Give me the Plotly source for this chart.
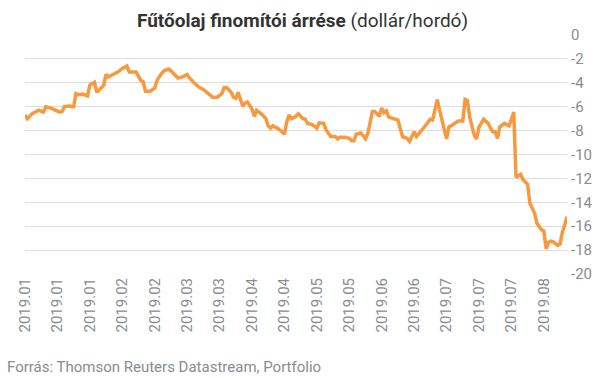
import plotly.graph_objects as go

dates = [
    "2019-01-01", "2019-01-02", "2019-01-04", "2019-01-05", "2019-01-07", "2019-01-09", "2019-01-10",
    "2019-01-12", "2019-01-15", "2019-01-16", "2019-01-17", "2019-01-18", "2019-01-20", "2019-01-22",
    "2019-01-23", "2019-01-24", "2019-01-26", "2019-01-28", "2019-01-29", "2019-01-31", "2019-02-01",
    "2019-02-02", "2019-02-04", "2019-02-05", "2019-02-06", "2019-02-08", "2019-02-10", "2019-02-12",
    "2019-02-14", "2019-02-15", "2019-02-17", "2019-02-18", "2019-02-20", "2019-02-21", "2019-02-22",
    "2019-02-24", "2019-02-26", "2019-02-27", "2019-03-01", "2019-03-02", "2019-03-04", "2019-03-05",
    "2019-03-08", "2019-03-10", "2019-03-12", "2019-03-13", "2019-03-15", "2019-03-17", "2019-03-19",
    "2019-03-21", "2019-03-23", "2019-03-25", "2019-03-27", "2019-03-28", "2019-03-29", "2019-03-31",
    "2019-04-01", "2019-04-02", "2019-04-03", "2019-04-05", "2019-04-06", "2019-04-07", "2019-04-09",
    "2019-04-10", "2019-04-11", "2019-04-13", "2019-04-15", "2019-04-16", "2019-04-17", "2019-04-18",
    "2019-04-20", "2019-04-22", "2019-04-23", "2019-04-24", "2019-04-25", "2019-04-26", "2019-04-28",
    "2019-04-29", "2019-05-01", "2019-05-02", "2019-05-03", "2019-05-05", "2019-05-07", "2019-05-08",
    "2019-05-10", "2019-05-11", "2019-05-13", "2019-05-15", "2019-05-16", "2019-05-17", "2019-05-19",
    "2019-05-21", "2019-05-22", "2019-05-23", "2019-05-24", "2019-05-26", "2019-05-27", "2019-05-28",
    "2019-05-29", "2019-05-31", "2019-06-01", "2019-06-03", "2019-06-04", "2019-06-05", "2019-06-06",
    "2019-06-07", "2019-06-09", "2019-06-11", "2019-06-12", "2019-06-13", "2019-06-15", "2019-06-16",
    "2019-06-18", "2019-06-19", "2019-06-22", "2019-06-24", "2019-06-25", "2019-06-26", "2019-06-27",
    "2019-06-28", "2019-06-29", "2019-07-01", "2019-07-02", "2019-07-03", "2019-07-04", "2019-07-07",
    "2019-07-09", "2019-07-10", "2019-07-11", "2019-07-12", "2019-07-13", "2019-07-14", "2019-07-15",
    "2019-07-16", "2019-07-18", "2019-07-20", "2019-07-21", "2019-07-22", "2019-07-23", "2019-07-24",
    "2019-07-25", "2019-07-27", "2019-07-28", "2019-07-29", "2019-07-30", "2019-07-31", "2019-08-01",
    "2019-08-02", "2019-08-03", "2019-08-04", "2019-08-06", "2019-08-07", "2019-08-09", "2019-08-10",
    "2019-08-12", "2019-08-13", "2019-08-14", "2019-08-15", "2019-08-16", "2019-08-17", "2019-08-19",
    "2019-08-20", "2019-08-21", "2019-08-22", "2019-08-23",
]

margin_values = [
    -6.7, -7.0, -6.6, -6.5, -6.3, -6.45, -6.0,
    -6.1, -6.4, -6.45, -6.4, -6.0, -5.95, -6.0,
    -4.9, -5.0, -4.95, -5.1, -4.2, -3.95, -4.8,
    -4.6, -4.2, -3.3, -3.5, -3.3, -3.1, -2.8,
    -2.6, -3.1, -3.1, -3.1, -3.8, -3.9, -4.7,
    -4.7, -4.45, -3.8, -3.2, -3.0, -2.85, -3.0,
    -3.6, -3.5, -3.3, -3.6, -4.0, -4.35, -4.55,
    -4.85, -5.2, -5.2, -4.9, -4.4, -4.4, -4.8,
    -5.2, -5.3, -4.8, -5.95, -5.7, -5.6, -6.2,
    -6.8, -6.3, -6.6, -7.0, -7.6, -7.8, -7.6,
    -7.8, -8.1, -8.3, -7.3, -6.7, -7.0, -6.8,
    -6.6, -7.0, -7.05, -7.4, -7.5, -7.8, -7.35,
    -7.4, -7.95, -8.5, -8.5, -8.7, -8.55, -8.55,
    -8.65, -8.85, -8.85, -8.3, -8.2, -8.4, -8.7,
    -8.25, -6.4, -6.4, -6.8, -6.1, -6.5, -6.35,
    -6.85, -7.0, -7.1, -7.8, -8.5, -8.65, -8.9,
    -8.1, -8.5, -7.8, -7.3, -7.05, -7.1, -6.3,
    -5.4, -6.3, -7.95, -8.7, -7.7, -7.6, -7.2,
    -7.2, -5.4, -5.5, -6.9, -7.55, -8.4, -8.7,
    -7.7, -7.05, -7.4, -7.8, -8.1, -8.1, -8.65,
    -7.7, -7.4, -7.5, -7.6, -7.05, -6.45, -11.9,
    -11.75, -11.65, -12.1, -12.5, -14.1, -14.9, -15.75,
    -16.3, -16.4, -17.9, -17.35, -17.25, -17.3, -17.6,
    -17.5, -16.5, -15.9, -15.2,
]

tick_dates = [
    "2019-01-01", "2019-01-15", "2019-01-29", "2019-02-12", "2019-02-26", "2019-03-12",
    "2019-03-26", "2019-04-09", "2019-04-23", "2019-05-07", "2019-05-21", "2019-06-04",
    "2019-06-18", "2019-07-02", "2019-07-16", "2019-07-30", "2019-08-13",
]
tick_labels = [
    "2019.01", "2019.01", "2019.01", "2019.02", "2019.02", "2019.03", "2019.03", "2019.04",
    "2019.04", "2019.05", "2019.05", "2019.06", "2019.06", "2019.07", "2019.07", "2019.07",
    "2019.08",
]
y_ticks = [0, -2, -4, -6, -8, -10, -12, -14, -16, -18, -20]

title_bold = "Fűtőolaj finomítói árrése"
title_rest = " (dollár/hordó)"
source_text = "Forrás: Thomson Reuters Datastream, Portfolio"

FONT = "Roboto, 'Noto Sans', sans-serif"
GREY = "#898c92"

fig = go.Figure()
fig.add_trace(go.Scatter(
    x=dates, y=margin_values, mode="lines",
    line=dict(color="#F7993F", width=3.5),
    hoverinfo="skip", showlegend=False,
))

fig.update_layout(
    width=605, height=378,
    margin=dict(l=25, r=38, t=35, b=104),
    paper_bgcolor="white", plot_bgcolor="white",
    font=dict(family=FONT, color=GREY, size=15),
    title=dict(
        text=f"<b>{title_bold}</b>{title_rest}",
        x=0.5, xanchor="center", y=0.947, yanchor="middle",
        font=dict(family=FONT, size=19, color="#333333"),
    ),
    xaxis=dict(
        type="date",
        range=["2019-01-01", "2019-08-23"],
        tickvals=tick_dates, ticktext=tick_labels,
        tickangle=-90, showgrid=False, zeroline=False,
        showline=False, ticks="",
        tickfont=dict(family=FONT, size=15, color=GREY),
    ),
    yaxis=dict(
        side="right", range=[-20, 0],
        tickvals=y_ticks, ticktext=[str(v) for v in y_ticks],
        showgrid=True, gridcolor="#dcdcdc", gridwidth=1,
        zeroline=False, showline=False, ticks="",
        ticklabelstandoff=3,
        tickfont=dict(family=FONT, size=15, color=GREY),
    ),
    annotations=[dict(
        text=source_text, xref="paper", yref="paper",
        x=-20 / 542, y=0.0, xanchor="left", yanchor="top",
        yshift=-(356 - 274), showarrow=False,
        font=dict(family=FONT, size=15, color=GREY),
    )],
)

fig.write_html(
    "out.html",
    config={"displayModeBar": False},
    post_script="document.body.style.margin='0px';document.body.style.overflow='hidden';",
)
